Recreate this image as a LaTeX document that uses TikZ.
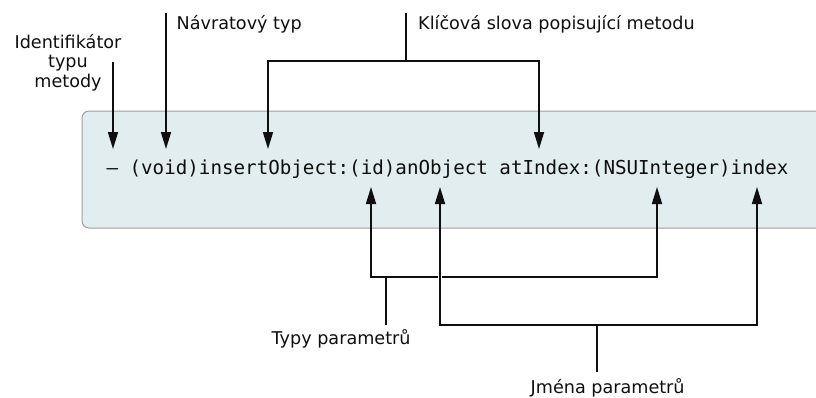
\documentclass[tikz,border=0pt]{standalone}
\usepackage{fontspec}
\setmainfont{DejaVu Sans}
\newfontfamily\codefont{DejaVu Sans Mono}
\usetikzlibrary{arrows.meta}
\definecolor{boxfill}{RGB}{225,237,238}
\definecolor{boxline}{RGB}{155,160,160}
\definecolor{ink}{RGB}{15,15,15}
\tikzset{
  lbl/.style={inner sep=0pt, text=ink, font=\fontsize{17.6}{21}\selectfont},
  code/.style={inner sep=0pt, text=ink, font=\codefont\fontsize{19.2}{22}\selectfont},
  conn/.style={draw=ink, line width=1.7pt},
  tip/.style={-{Triangle[length=17pt,width=10pt]}},
  tips/.style={{Triangle[length=17pt,width=10pt]}-{Triangle[length=17pt,width=10pt]}},
  codebox/.style={draw=boxline, fill=boxfill, line width=1pt, rounded corners=7pt}
}
\begin{document}
\begin{tikzpicture}[x=1pt,y=-1pt]
\useasboundingbox (0,0) rectangle (816,397);
% box
\draw[codebox] (82,111) rectangle (840,228);
\node[code, anchor=base west] (sig) at (106.3,174) {– (void)insertObject:(id)anObject atIndex:(NSUInteger)index};
% labels
\node[lbl, align=center, anchor=base] (ident) at (68,87) {Identifikátor\\[-1.5pt]typu\\[-1.5pt]metody};
\node[lbl, anchor=base west] (ret) at (176.5,29) {Návratový typ};
\node[lbl, anchor=base west] (kw) at (418,29) {Klíčová slova popisující metodu};
\node[lbl, anchor=base west] (ptypes) at (271.5,344) {Typy parametrů};
\node[lbl, anchor=base west] (pnames) at (530.5,393) {Jména parametrů};
% coordinates
\coordinate (idS) at (113,62);   \coordinate (idE) at (113,149);
\coordinate (rtS) at (166,13);   \coordinate (rtE) at (166,149);
\coordinate (kwS) at (406,13);   \coordinate (kwJ) at (406,61);
\coordinate (kwL) at (268,149);  \coordinate (kwLc) at (268,61);
\coordinate (kwR) at (539,149);  \coordinate (kwRc) at (539,61);
\coordinate (t1) at (371,187);   \coordinate (t1c) at (371,277);
\coordinate (t2) at (657,187);   \coordinate (t2c) at (657,277);
\coordinate (tJ) at (386,277);   \coordinate (tS) at (386,325);
\coordinate (n1) at (440,187);   \coordinate (n1c) at (440,325);
\coordinate (n2) at (757,187);   \coordinate (n2c) at (757,325);
\coordinate (nJ) at (597,325);   \coordinate (nS) at (597,372);
\coordinate (gapA) at (440,271); \coordinate (gapB) at (440,283);
% connectors
\draw[conn, tip] (idS) -- (idE);
\draw[conn, tip] (rtS) -- (rtE);
\draw[conn] (kwS) -- (kwJ);
\draw[conn, tips] (kwL) -- (kwLc) -- (kwRc) -- (kwR);
\draw[conn, tips] (t1) -- (t1c) -- (t2c) -- (t2);
\draw[conn] (tJ) -- (tS);
\draw[draw=white, line width=4.5pt] (gapA) -- (gapB);
\draw[conn, tips] (n1) -- (n1c) -- (n2c) -- (n2);
\draw[conn] (nJ) -- (nS);
\end{tikzpicture}
\end{document}
